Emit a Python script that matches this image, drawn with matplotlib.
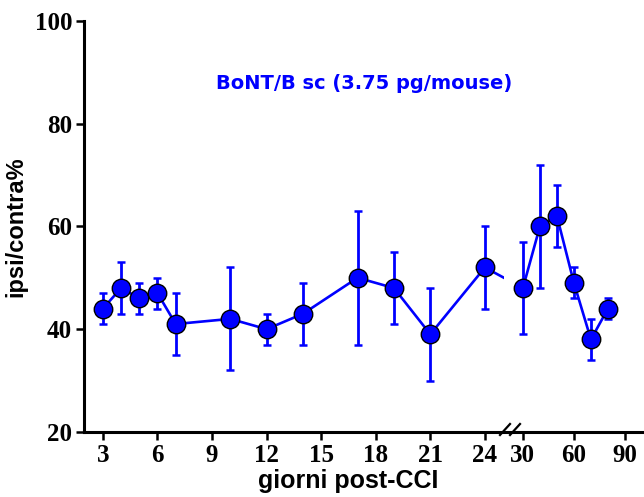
import numpy as np
import matplotlib
matplotlib.use("Agg")
import matplotlib.pyplot as plt
from matplotlib.patches import Rectangle

# ---- data ----
days = [3, 4, 5, 6, 7, 10, 12, 14, 17, 19, 21, 24, 30, 40, 50, 60, 70, 80]
means = [44, 48, 46, 47, 41, 42, 40, 43, 50, 48, 39, 52, 48, 60, 62, 49, 38, 44]
errors = [3, 5, 3, 3, 6, 10, 3, 6, 13, 7, 9, 8, 9, 12, 6, 3, 4, 2]
xticks = [3, 6, 9, 12, 15, 18, 21, 24, 30, 60, 90]
yticks = [20, 40, 60, 80, 100]
title = "BoNT/B sc (3.75 pg/mouse)"
xlabel = "giorni post-CCI"
ylabel = "ipsi/contra%"

BLUE = "#0000ff"

# ---- broken x scale: linear up to 24, compressed after 30 ----
G = 2.09      # gap width (axis units) between 24 and 30
K = 0.0935    # compression factor after 30


def fwd(x):
    x = np.asarray(x, dtype=float)
    return np.where(x <= 24, x,
                    np.where(x < 30, 24 + (x - 24) * G / 6.0,
                             24 + G + (x - 30) * K))


def inv(y):
    y = np.asarray(y, dtype=float)
    return np.where(y <= 24, y,
                    np.where(y < 24 + G, 24 + (y - 24) * 6.0 / G,
                             30 + (y - 24 - G) / K))


fig = plt.figure(figsize=(6.44, 4.97), dpi=100)
ax = fig.add_axes([84 / 644, 65 / 497, 560 / 644, 411.3 / 497])
ax.set_xscale("function", functions=(fwd, inv))
xmin, xmax = 1.96, 101.2
ax.set_xlim(xmin, xmax)
ax.set_ylim(20, 100)

# lines, split at the axis break
gap_lo, gap_hi = 27.0, 29.05
left_line, = ax.plot(days, means, color=BLUE, lw=1.9, zorder=2)
left_line.set_clip_path(Rectangle((xmin, 0), gap_lo - xmin, 200,
                                  transform=ax.transData))
right_line, = ax.plot(days, means, color=BLUE, lw=1.9, zorder=2)
right_line.set_clip_path(Rectangle((gap_hi, 0), xmax - gap_hi, 200,
                                   transform=ax.transData))

ax.errorbar(days, means, yerr=errors, fmt="none", ecolor=BLUE,
            elinewidth=2.0, capsize=2.6, capthick=1.8, zorder=3)
ax.plot(days, means, linestyle="none", marker="o", markersize=13.3,
        markerfacecolor=BLUE, markeredgecolor="black", markeredgewidth=1.0,
        zorder=4, clip_on=False)

# spines / ticks
for s in ["top", "right"]:
    ax.spines[s].set_visible(False)
for s in ["left", "bottom"]:
    ax.spines[s].set_linewidth(2.2)
ax.set_xticks(xticks)
ax.set_xticklabels([str(t) for t in xticks])
ax.set_yticks(yticks)
ax.set_yticklabels([str(t) for t in yticks])
ax.minorticks_off()
ax.tick_params(axis="both", direction="out", length=5.5, width=1.8,
               color="black", pad=3)
tick_font = dict(family="Liberation Serif", weight="bold", size=18)
for lab in ax.get_xticklabels() + ax.get_yticklabels():
    lab.set_fontfamily(tick_font["family"])
    lab.set_fontweight(tick_font["weight"])
    lab.set_fontsize(tick_font["size"])

ax.set_xlabel(xlabel, family="Liberation Sans", weight="bold", size=18)
ax.xaxis.set_label_coords((348 - 84) / 560, (432 - 469) / 411.3)
ax.set_ylabel(ylabel, family="Liberation Sans", weight="bold", size=17,
              labelpad=5)

# axis break marks
for x0 in (500, 510):
    ax.plot([(x0 - 84) / 560, (x0 + 10 - 84) / 560],
            [-3 / 411.3, 8 / 411.3], transform=ax.transAxes,
            color="black", lw=1.6, clip_on=False, zorder=5)

ax.text((364 - 84) / 560, (432 - 83) / 411.3, title, transform=ax.transAxes,
        ha="center", va="center", color=BLUE, fontsize=14,
        family="DejaVu Sans", weight="bold")

fig.savefig("out.png", dpi=100)
